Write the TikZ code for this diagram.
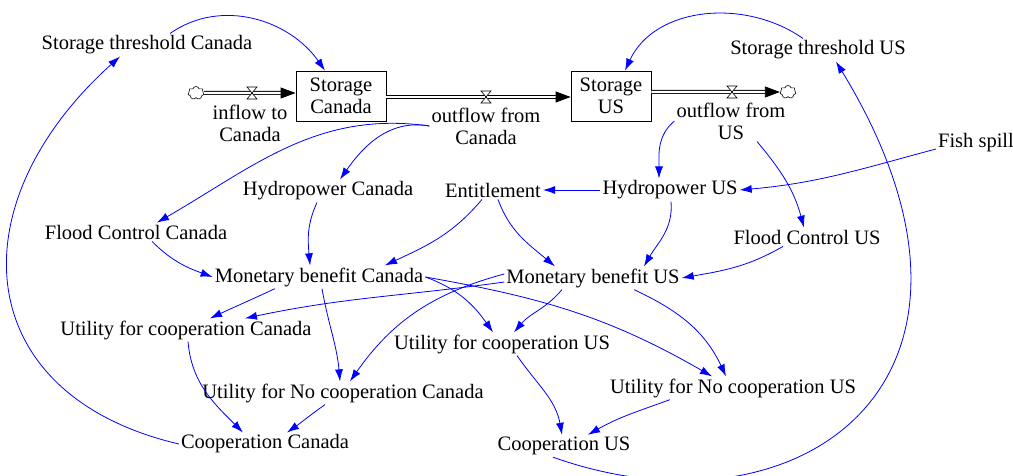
\documentclass[tikz,border=0pt]{standalone}
\usepackage{fontspec}
\setmainfont{Liberation Serif}
\usetikzlibrary{arrows.meta,shapes.symbols}

\tikzset{
  var/.style={font=\fontsize{20.5}{22}\selectfont, inner sep=2pt, align=center},
  stock/.style={var, draw, line width=0.8pt, minimum height=50pt, inner sep=0pt},
  link/.style={blue, line width=0.8pt, -{Latex[length=12pt,width=8pt]}},
  pipe/.style={double, double distance=2.4pt, line width=0.8pt},
  flowtip/.style={-{Triangle[length=15pt,width=11pt]}},
  valveshape/.style={fill=white, line width=0.6pt},
  sourcesink/.style={cloud, cloud puffs=7, aspect=1.2, draw, fill=white, line width=0.6pt,
    minimum width=16pt, minimum height=13pt, inner sep=0pt},
}

\begin{document}
\begin{tikzpicture}[x=1pt,y=1pt]
  \useasboundingbox (0,0) rectangle (1013,-476);

  % stocks and flows
  \node[stock, minimum width=90pt] (stCA) at (341,-96) {Storage\\Canada};
  \node[stock, minimum width=80pt] (stUS) at (611,-96) {Storage\\US};
  \coordinate (vIn) at (252,-93);
  \coordinate (vOutCA) at (486,-97);
  \coordinate (vOutUS) at (732,-92);
  \node[sourcesink] (srcIn) at (196,-93) {};
  \node[sourcesink] (sinkUS) at (788,-92) {};

  \draw[pipe, flowtip] (srcIn) -- (vIn) -- (stCA.west |- vIn);
  \draw[pipe, flowtip] (stCA.east |- vOutCA) -- (vOutCA) -- (stUS.west |- vOutCA);
  \draw[pipe, flowtip] (stUS.east |- vOutUS) -- (vOutUS) -- (sinkUS.west);
  \draw[valveshape] (vIn) +(-5,6) -- +(5,6) -- +(-5,-6) -- +(5,-6) -- cycle;
  \draw[valveshape] (vOutCA) +(-5,6) -- +(5,6) -- +(-5,-6) -- +(5,-6) -- cycle;
  \draw[valveshape] (vOutUS) +(-5,6) -- +(5,6) -- +(-5,-6) -- +(5,-6) -- cycle;

  \node[var] (inCA) at (250,-123) {inflow to\\Canada};
  \node[var] (outCA) at (486,-126) {outflow from\\Canada};
  \node[var] (outUS) at (731,-121) {outflow from\\US};

  % auxiliaries
  \node[var] (thrCA) at (147,-45) {Storage threshold Canada};
  \node[var] (thrUS) at (818,-50) {Storage threshold US};
  \node[var] (fish) at (976,-143) {Fish spill};
  \node[var] (hpCA) at (328,-191) {Hydropower Canada};
  \node[var] (ent) at (493,-190) {Entitlement};
  \node[var] (hpUS) at (670,-190) {Hydropower US};
  \node[var] (fcCA) at (136,-232) {Flood Control Canada};
  \node[var] (fcUS) at (807,-237) {Flood Control US};
  \node[var] (mbCA) at (319,-277) {Monetary benefit Canada};
  \node[var] (mbUS) at (593,-278) {Monetary benefit US};
  \node[var] (ucCA) at (186,-330) {Utility for cooperation Canada};
  \node[var] (ucUS) at (502,-344) {Utility for cooperation US};
  \node[var] (uncCA) at (343,-393) {Utility for No cooperation Canada};
  \node[var] (uncUS) at (733,-388) {Utility for No cooperation US};
  \node[var] (coCA) at (265,-444) {Cooperation Canada};
  \node[var] (coUS) at (564,-446) {Cooperation US};

  % links
  \draw[link] ([xshift=23pt]thrCA.north) to[out=35, in=125] ([xshift=-16pt]stCA.north);
  \draw[link] (coCA.west) .. controls (-30,-395) and (-45,-205) .. ([xshift=-27pt]thrCA.south);
  \draw[link] ([xshift=-15pt]thrUS.north) to[out=145, in=65] ([xshift=14pt]stUS.north);
  \draw[link] ([xshift=-11pt]coUS.south) .. controls (800,-545) and (1030,-380) .. ([xshift=18pt]thrUS.south);
  \draw[link] (outCA.west) to[out=172, in=30] ([xshift=21pt]fcCA.north);
  \draw[link] (outCA.west) to[out=170, in=55] ([xshift=12pt]hpCA.north);
  \draw[link] (outUS.west) to[out=220, in=90] ([xshift=-11pt]hpUS.north);
  \draw[link] ([xshift=26pt]outUS.south) to[out=-50, in=105] ([xshift=-3pt]fcUS.north);
  \draw[link] ([yshift=-6pt]fish.west) to[out=195, in=5] (hpUS.east);
  \draw[link] (hpUS.west) -- (ent.east);
  \draw[link] ([xshift=-11pt]hpCA.south) to[out=-115, in=95] ([xshift=-9pt]mbCA.north);
  \draw[link] ([xshift=-11pt]ent.south) to[out=-130, in=25] ([xshift=66pt]mbCA.north);
  \draw[link] ([xshift=5pt]ent.south) to[out=-70, in=140] ([xshift=-38pt]mbUS.north);
  \draw[link] ([xshift=1pt]hpUS.south) to[out=-85, in=60] ([xshift=51pt]mbUS.north);
  \draw[link] ([xshift=-24pt]fcUS.south) to[out=-150, in=10] (mbUS.east);
  \draw[link] ([xshift=16pt]fcCA.south) to[out=-45, in=160] (mbCA.west);
  \draw[link] ([xshift=-44pt]mbCA.south) to[out=-155, in=25] ([xshift=24pt]ucCA.north);
  \draw[link] ([yshift=-4pt]mbUS.west) to[out=188, in=12] ([xshift=59pt]ucCA.north);
  \draw[link] ([xshift=3pt]mbCA.south) to[out=-80, in=95] ([xshift=-3pt]uncCA.north);
  \draw[link] ([yshift=4pt]mbUS.west) to[out=195, in=55] ([xshift=7pt]uncCA.north);
  \draw[link] (mbCA.east) to[out=-20, in=125] ([xshift=-9pt]ucUS.north);
  \draw[link] ([xshift=-31pt]mbUS.south) to[out=-130, in=50] ([xshift=12pt]ucUS.north);
  \draw[link] (mbCA.east) to[out=-10, in=150] ([xshift=-21pt]uncUS.north);
  \draw[link] ([xshift=41pt]mbUS.south) to[out=-25, in=115] ([xshift=-7pt]uncUS.north);
  \draw[link] ([xshift=2pt]ucCA.south) to[out=-85, in=135] ([xshift=-22pt]coCA.north);
  \draw[link] ([xshift=-18pt]uncCA.south) to[out=-145, in=35] ([xshift=22pt]coCA.north);
  \draw[link] ([xshift=15pt]ucUS.south) to[out=-55, in=100] ([xshift=-2pt]coUS.north);
  \draw[link] ([xshift=-63pt]uncUS.south) to[out=-160, in=30] ([xshift=24pt]coUS.north);
\end{tikzpicture}
\end{document}
